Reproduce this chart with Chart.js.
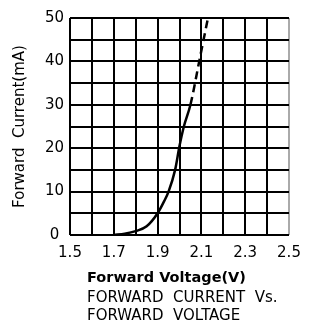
<!DOCTYPE html>
<html>
<head>
<meta charset="utf-8">
<script src="https://cdn.jsdelivr.net/npm/chart.js@4"></script>
<style>
  html, body { margin: 0; padding: 0; background: #fff; }
  canvas { display: block; }
</style>
</head>
<body>
<canvas id="vf-chart" width="322" height="333"></canvas>
<script>
// forward voltage (V) and current (mA)
const voltage = [1.70, 1.75, 1.80, 1.85, 1.90, 1.93, 1.95, 1.98, 2.00, 2.02, 2.05, 2.09, 2.13];
const current = [0, 0.3, 0.9, 2.0, 5.0, 7.8, 10, 15, 20.5, 25, 30, 40, 50];
// past this current the curve is drawn dashed
const dashFrom = 30;

const xTickLabels = ['1.5', '1.7', '1.9', '2.1', '2.3', '2.5'];
const yTickLabels = ['0', '10', '20', '30', '40', '50'];
const captionLines = ['Forward Voltage(V)', 'FORWARD  CURRENT  Vs.', 'FORWARD  VOLTAGE'];

const FONT = '"DejaVu Sans", sans-serif';

const points = voltage.map((v, i) => ({ x: v, y: current[i] }));

// caption under the x axis, left aligned a little inside the plot
const captionPlugin = {
  id: 'caption',
  afterDraw(chart) {
    const ctx = chart.ctx;
    const left = chart.chartArea.left + 17;
    ctx.save();
    ctx.fillStyle = '#000';
    ctx.textAlign = 'left';
    ctx.textBaseline = 'alphabetic';
    ctx.font = 'bold 14.5px ' + FONT;
    ctx.fillText(captionLines[0], left, 282);
    ctx.font = '15px ' + FONT;
    ctx.fillText(captionLines[1], left, 302);
    ctx.fillText(captionLines[2], left, 320);
    ctx.restore();
  }
};

const gridColor = (ctx) => ctx.index === 10 ? '#aaa' : '#000';

new Chart(document.getElementById('vf-chart'), {
  type: 'line',
  data: {
    datasets: [{
      data: points,
      borderColor: '#000',
      borderWidth: 2.5,
      pointRadius: 0,
      fill: false,
      cubicInterpolationMode: 'monotone',
      segment: {
        borderDash: (ctx) => ctx.p0.parsed.y >= dashFrom ? [8, 5] : undefined
      }
    }]
  },
  options: {
    responsive: false,
    animation: false,
    layout: { padding: { left: 0, top: 18, right: 33, bottom: 0 } },
    plugins: {
      legend: { display: false },
      tooltip: { enabled: false }
    },
    scales: {
      x: {
        type: 'linear',
        min: 1.5,
        max: 2.5,
        border: { display: false },
        grid: { color: gridColor, lineWidth: 2, drawTicks: false },
        ticks: {
          stepSize: 0.1,
          autoSkip: false,
          maxRotation: 0,
          padding: 9,
          color: '#000',
          font: { family: FONT, size: 15 },
          callback: (value, index) => index % 2 === 0 ? xTickLabels[index / 2] : ''
        },
        afterFit: (scale) => { scale.height = 98; }
      },
      y: {
        min: 0,
        max: 50,
        border: { display: false },
        grid: { color: '#000', lineWidth: 2, drawTicks: false },
        ticks: {
          stepSize: 5,
          autoSkip: false,
          crossAlign: 'center',
          padding: 6,
          color: '#000',
          font: { family: FONT, size: 15 },
          callback: (value, index) => index % 2 === 0 ? yTickLabels[index / 2] : ''
        },
        title: {
          display: true,
          text: 'Forward  Current(mA)',
          color: '#000',
          font: { family: FONT, size: 15 },
          padding: { top: 11, bottom: 0 }
        },
        afterFit: (scale) => { scale.width = 70; }
      }
    }
  },
  plugins: [captionPlugin]
});
</script>
</body>
</html>
